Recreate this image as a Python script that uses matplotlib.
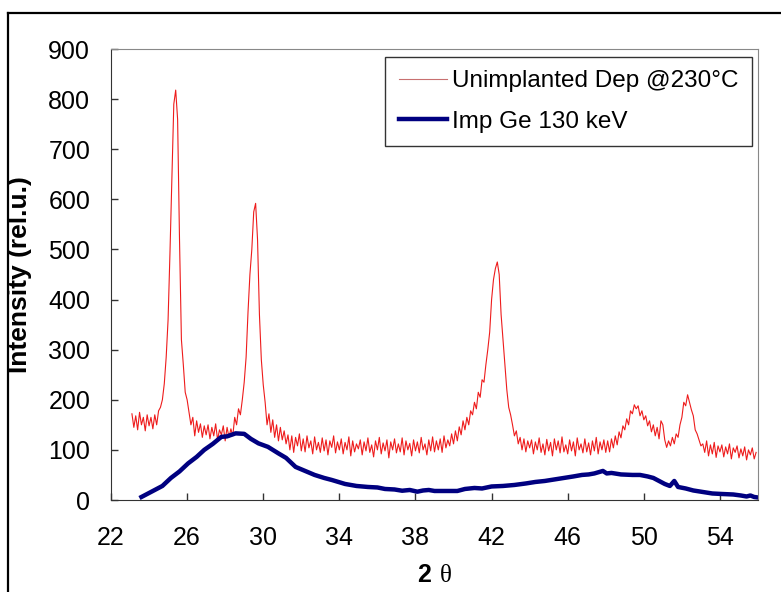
import numpy as np
from matplotlib import pyplot as plt
from matplotlib.lines import Line2D

plt.rcParams['font.family'] = ['Liberation Sans', 'DejaVu Sans']
plt.rcParams['mathtext.fontset'] = 'custom'
plt.rcParams['mathtext.rm'] = 'Liberation Serif'
plt.rcParams['mathtext.bf'] = 'Liberation Sans:bold'

### unimplanted, deposited at 230C (scan 23.1 .. 55.9, step 0.1)
two_theta_dep = np.linspace(23.1, 55.9, 329)
int_dep = [
    172, 145, 168, 140, 175, 150, 165, 138, 170, 148,   # 23.1 - 24.0
    165, 142, 170, 150, 178, 185, 200, 232, 285, 360,   # 24.1 - 25.0
    495, 645, 790, 818, 760, 520, 320, 270, 215, 200,   # 25.1 - 26.0
    175, 150, 165, 128, 158, 135, 152, 125, 148, 130,   # 26.1 - 27.0
    150, 122, 145, 128, 152, 120, 140, 130, 148, 118,   # 27.1 - 28.0
    145, 125, 142, 128, 165, 150, 182, 170, 200, 235,   # 28.1 - 29.0
    285, 375, 450, 500, 575, 592, 520, 370, 280, 230,   # 29.1 - 30.0
    195, 150, 172, 135, 160, 125, 150, 118, 145, 120,   # 30.1 - 31.0
    138, 112, 130, 100, 128, 95, 125, 108, 132, 98,     # 31.1 - 32.0
    122, 96, 128, 104, 118, 92, 126, 100, 115, 95,      # 32.1 - 33.0
    124, 98, 120, 90, 118, 105, 128, 94, 116, 100,      # 33.1 - 34.0
    122, 92, 115, 100, 126, 88, 118, 96, 112, 102,      # 34.1 - 35.0
    120, 90, 116, 98, 124, 95, 110, 86, 118, 100,       # 35.1 - 36.0
    125, 92, 114, 98, 120, 84, 116, 100, 122, 94,       # 36.1 - 37.0
    112, 96, 124, 90, 118, 100, 113, 88, 120, 98,       # 37.1 - 38.0
    116, 94, 125, 100, 112, 90, 120, 98, 126, 96,       # 38.1 - 39.0
    118, 100, 122, 95, 128, 104, 120, 108, 132, 112,    # 39.1 - 40.0
    138, 118, 146, 130, 158, 140, 165, 150, 178, 170,   # 40.1 - 41.0
    195, 182, 215, 205, 240, 235, 270, 300, 335, 400,   # 41.1 - 42.0
    440, 462, 475, 450, 370, 320, 270, 220, 185, 170,   # 42.1 - 43.0
    150, 128, 138, 112, 125, 100, 122, 96, 118, 104,    # 43.1 - 44.0
    120, 92, 116, 100, 124, 95, 112, 90, 121, 98,       # 44.1 - 45.0
    115, 88, 122, 100, 118, 94, 126, 96, 110, 92,       # 45.1 - 46.0
    120, 98, 116, 88, 124, 100, 112, 94, 122, 96,       # 46.1 - 47.0
    114, 90, 118, 98, 125, 92, 116, 100, 120, 95,       # 47.1 - 48.0
    118, 96, 122, 104, 128, 110, 136, 124, 148, 140,    # 48.1 - 49.0
    162, 150, 178, 172, 190, 182, 188, 168, 178, 160,   # 49.1 - 50.0
    168, 148, 158, 136, 150, 128, 145, 122, 158, 150,   # 50.1 - 51.0
    120, 105, 118, 108, 125, 112, 132, 125, 150, 165,   # 51.1 - 52.0
    195, 188, 210, 195, 180, 168, 140, 132, 120, 108,   # 52.1 - 53.0
    112, 95, 118, 88, 110, 92, 115, 85, 108, 96,        # 53.1 - 54.0
    110, 86, 106, 92, 112, 82, 104, 95, 108, 84,        # 54.1 - 55.0
    102, 88, 106, 80, 100, 90, 104, 82, 95,             # 55.1 - 55.9
]

### Ge implanted 130 keV
two_theta_imp = [23.6, 24.0, 24.3, 24.7, 25.15, 25.6, 26.05, 26.5, 26.9, 27.35,
                 27.8, 28.1, 28.55, 29.0, 29.35, 29.75, 30.25, 30.8, 31.2, 31.7,
                 32.2, 32.7, 33.2, 33.6, 34.3, 34.9, 35.5, 36.0, 36.4, 36.9,
                 37.3, 37.7, 38.1, 38.4, 38.7, 39.0, 39.5, 40.2, 40.6, 41.1,
                 41.5, 42.0, 42.6, 43.2, 43.8, 44.3, 44.8, 45.3, 45.8, 46.3,
                 46.75, 47.1, 47.4, 47.85, 48.05, 48.3, 48.8, 49.4, 49.8, 50.2,
                 50.5, 50.85, 51.1, 51.37, 51.6, 51.8, 52.2, 52.6, 53.1, 53.6,
                 54.1, 54.7, 55.1, 55.4, 55.6, 55.8, 56.0]
int_imp = [6, 14, 20, 28, 44, 57, 73, 86, 100, 112,
           126, 127, 133, 132, 122, 113, 106, 93, 84, 66,
           58, 50, 44, 40, 32, 28, 26, 25, 22, 21,
           18.5, 20, 16.6, 19, 20, 18, 18, 18, 22, 24,
           23, 27, 28, 30, 33, 36, 38, 41, 44, 47,
           50, 51, 53, 58, 53, 54, 51, 50, 50, 47,
           44, 37, 32, 28, 38, 26, 23, 19, 16, 13,
           12, 11, 9, 7, 9, 6, 5]

lbl_dep = "Unimplanted Dep @230°C"
lbl_imp = "Imp Ge 130 keV"
xticks = [22, 26, 30, 34, 38, 42, 46, 50, 54]
yticks = [0, 100, 200, 300, 400, 500, 600, 700, 800, 900]

W, H = 781, 592
ax_l, ax_r, ax_t, ax_b = 111, 758, 49, 500
fig = plt.figure(figsize=(W / 100, H / 100), dpi=100)
ax = fig.add_axes([ax_l / W, 1 - ax_b / H, (ax_r - ax_l) / W, (ax_b - ax_t) / H])

ax.plot(two_theta_dep, int_dep, color="#ee1c1c", lw=0.8, label=lbl_dep)
ax.plot(two_theta_imp, int_imp, color="#000080", lw=3.2, label=lbl_imp,
        solid_joinstyle="round")

ax.set_xlim(22, 56)
ax.set_ylim(0, 900)
ax.set_xticks(xticks)
ax.set_yticks(yticks)
ax.tick_params(direction="in", length=5, width=1, color="#333333",
               labelsize=18)
ax.tick_params(axis="x", pad=19)
ax.tick_params(axis="y", pad=15)

for s in ["top", "right"]:
    ax.spines[s].set_color("#888888")
for s in ["left", "bottom"]:
    ax.spines[s].set_color("#333333")

ax.set_ylabel("Intensity (rel.u.)", fontsize=19, fontweight="bold")
ax.yaxis.set_label_coords((20 - ax_l) / (ax_r - ax_l), 0.5)
ax.yaxis.label.set_verticalalignment("center")
ax.set_xlabel(r"$\mathbf{2}\ \mathrm{\theta}$", fontsize=18, labelpad=9)

leg = ax.legend(loc="upper right", bbox_to_anchor=(752 / W, 1 - 57 / H),
                bbox_transform=fig.transFigure, borderaxespad=0,
                fontsize=17.5, frameon=True, fancybox=False, shadow=False,
                handlelength=2.0, handletextpad=0.2, labelspacing=0.75,
                borderpad=0.55)
leg.get_frame().set_edgecolor("black")
leg.get_frame().set_linewidth(1.0)
leg.legend_handles[0].set_color("#c87070")

# outer frame, cut by the picture edge on the right and bottom
fx, fy = 8 / W, 1 - 13 / H
fig.add_artist(Line2D([fx, fx], [0, fy], transform=fig.transFigure,
                      color="black", lw=1.6))
fig.add_artist(Line2D([fx, 1], [fy, fy], transform=fig.transFigure,
                      color="black", lw=1.6))

fig.savefig("out.png", dpi=100)
